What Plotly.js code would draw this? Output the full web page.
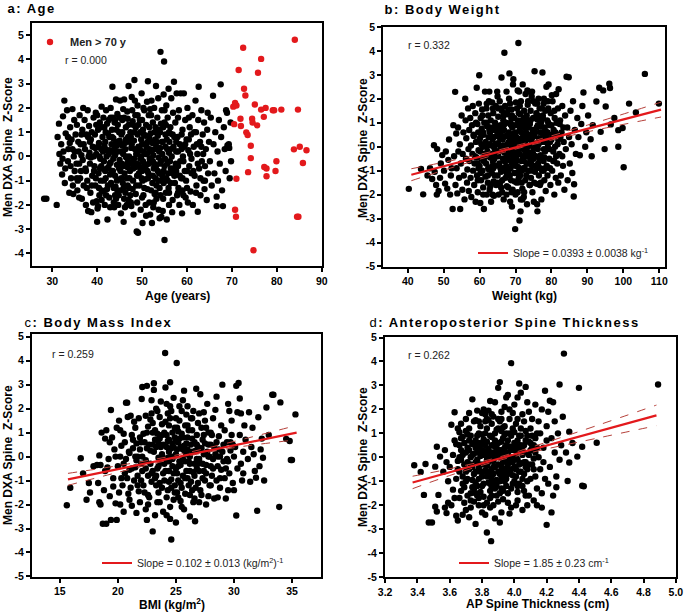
<!DOCTYPE html>
<html><head><meta charset="utf-8">
<script src="https://cdn.plot.ly/plotly-3.0.1.min.js"></script>
<style>html,body{margin:0;padding:0;background:#fff;} #chart{width:685px;height:613px;}</style>
</head><body><div id="chart"></div>
<script>
// ---------- DATA ----------
const ageBlack = [[28.2,-1.75],[28.7,-1.75],[31.0,-2.0],[31.2,0.8],[31.5,1.35],[31.6,0.1],[31.8,-0.3],[32.0,0.5],[32.2,-0.75],[32.4,1.65],[32.7,2.3],[32.5,0.2],[32.9,-0.5],[32.3,-0.1],[33.0,0.95],[32.8,-1.1],
[33.3,1.9],[33.6,0.3],[33.8,-1.5],[34.0,1.2],[34.1,-0.4],[34.3,0.7],[34.5,1.95],[34.6,-1.2],[34.8,0.0],[34.2,-0.9],[33.5,-0.2],[34.9,1.5],[35.0,-0.6],[33.9,0.55],[34.7,-1.55],
[35.2,0.9],[35.4,-0.3],[35.5,1.3],[35.7,-1.0],[35.9,0.2],[36.0,-1.7],[36.1,1.7],[36.3,0.5],[36.4,-0.6],[36.6,-1.75],[36.7,1.1],[36.8,-0.15],[36.9,2.0],[35.6,-1.4],[36.2,-0.9],[35.8,0.6],[36.5,0.05],[37.0,-1.2],
[37.2,1.5],[37.3,0.3],[37.4,-0.5],[37.5,-2.0],[37.6,0.9],[37.8,-1.0],[37.9,1.9],[38.0,-2.25],[38.1,0.0],[38.2,1.25],[38.4,-0.3],[38.5,-1.5],[38.6,0.7],[38.7,-2.3],[38.8,1.0],[38.9,-0.8],[39.0,0.4],[37.7,-1.3],[38.3,0.15],[39.1,-1.9],[39.2,1.6],[38.6,-0.05],
[39.4,-0.4],[39.5,0.9],[39.6,-1.2],[39.7,1.8],[39.8,0.1],[40.0,-2.7],[40.1,-2.15],[40.2,1.1],[40.3,-0.7],[40.4,0.55],[40.5,-1.6],[40.6,1.4],[40.7,-0.1],[40.8,-1.0],[40.9,0.3],[41.0,2.05],[41.1,-0.5],[39.9,-1.85],[40.4,-1.3],[41.2,0.8],[39.6,0.35],[41.3,-1.45],[40.2,-2.05],[41.4,1.6],
[41.5,-0.2],[41.6,1.2],[41.7,-2.0],[41.8,0.6],[41.9,-0.9],[42.0,1.9],[42.1,0.0],[42.2,-1.35],[42.3,-2.6],[42.4,0.95],[42.5,-0.45],[42.6,1.5],[42.7,-1.7],[42.8,0.25],[42.9,-0.75],[43.0,2.0],[43.1,-1.1],[43.2,0.5],[41.8,-0.6],[42.2,1.35],[42.6,0.1],[43.0,-0.25],[43.3,1.1],[42.0,-1.6],[42.9,-2.1],[41.6,0.45],
[43.4,2.87],[43.5,-0.6],[43.6,0.75],[43.7,-1.9],[43.8,-2.1],[43.9,1.4],[44.0,0.05],[44.1,-1.25],[44.2,2.35],[44.3,0.45],[44.4,-0.35],[44.5,1.75],[44.6,-0.95],[44.7,0.2],[44.8,-1.6],[44.9,1.0],[45.0,-0.15],[45.1,2.3],[43.6,-0.1],[44.0,-0.8],[44.3,1.1],[44.7,-2.0],[45.0,0.65],[43.9,0.35],[44.5,-1.4],[44.9,-0.5],[43.5,1.6],[44.2,-1.75],
[45.3,-2.35],[45.4,0.9],[45.5,-0.3],[45.6,1.5],[45.7,-1.1],[45.8,0.1],[45.9,-2.7],[46.0,2.35],[46.1,-0.7],[46.2,0.55],[46.3,-1.5],[46.4,1.2],[46.5,-0.05],[46.6,-2.0],[46.7,1.85],[46.8,-0.45],[46.9,0.8],[47.0,2.9],[47.1,-1.3],[45.4,-0.9],[45.8,1.95],[46.0,-1.75],[46.3,0.3],[46.6,-0.9],[46.9,-0.2],[47.0,1.3],[45.6,0.45],[46.2,-2.1],[46.8,1.55],[47.1,0.0],
[47.3,-0.6],[47.4,1.0],[47.5,-1.9],[47.6,0.35],[47.7,2.45],[47.8,-0.25],[47.9,1.45],[48.0,-1.0],[48.1,-2.4],[48.2,0.65],[48.3,3.15],[48.4,-0.45],[48.5,1.7],[48.6,-1.55],[48.7,0.1],[48.8,-3.1],[48.9,-0.8],[49.0,2.1],[49.1,-3.15],[49.2,0.4],[47.5,0.8],[47.9,-1.35],[48.2,-0.1],[48.6,1.2],[48.9,-1.9],[49.2,-0.35],[47.6,-2.05],[48.4,2.3],[49.0,0.9],[47.8,1.9],
[49.4,-1.2],[49.5,1.5],[49.6,-0.1],[49.7,-2.2],[49.8,0.7],[49.9,2.6],[50.0,-0.6],[50.1,-2.75],[50.2,1.1],[50.3,-1.6],[50.4,0.2],[50.5,1.9],[50.6,-0.95],[50.7,0.5],[50.8,-2.0],[50.9,1.3],[51.0,-0.35],[51.1,2.25],[51.2,-1.35],[51.3,3.1],[49.5,0.3],[49.9,-0.9],[50.2,-0.2],[50.5,-1.3],[50.8,0.85],[51.1,0.1],[49.6,1.0],[50.3,2.0],[50.9,-2.45],[51.2,0.6],
[51.4,-0.7],[51.5,1.7],[51.6,-1.9],[51.7,0.3],[51.8,-2.4],[51.9,0.95],[52.0,-0.15],[52.1,2.3],[52.2,-2.75],[52.3,-1.1],[52.4,1.4],[52.5,0.05],[52.6,-0.5],[52.7,2.0],[52.8,-1.55],[52.9,0.7],[53.0,-0.9],[53.1,2.9],[53.2,0.4],[51.6,0.8],[52.0,-1.4],[52.3,0.55],[52.7,-0.3],[53.0,1.2],[51.8,1.95],[52.5,-2.1],[53.2,-1.75],[51.5,-0.3],
[53.4,1.6],[53.5,-0.6],[53.6,2.4],[53.7,-2.2],[53.8,0.2],[53.9,-1.3],[54.0,1.0],[54.1,4.31],[54.2,-0.2],[54.3,-2.5],[54.4,1.9],[54.5,-0.8],[54.6,0.6],[54.7,-1.75],[54.8,2.55],[54.9,3.91],[55.0,-3.45],[55.0,-0.4],[53.5,0.85],[53.9,-2.55],[54.2,1.35],[54.5,0.1],[54.8,-1.1],[53.7,-0.05],[54.1,-1.6],[54.6,-2.25],[55.0,1.4],[53.6,-1.0],
[55.2,0.9],[55.3,-1.5],[55.4,2.1],[55.5,-2.6],[55.6,0.3],[55.7,1.6],[55.8,-0.7],[55.9,2.79],[56.0,-2.0],[56.1,0.6],[56.2,-0.2],[56.3,1.2],[56.4,-1.1],[56.5,2.4],[56.6,0.0],[56.8,-1.8],[56.9,1.8],[57.0,-0.5],[57.1,3.08],[55.4,-0.9],[55.9,-1.3],[56.2,0.95],[56.7,-2.3],[57.0,0.4],
[57.3,-1.1],[57.4,1.4],[57.6,0.2],[57.7,2.6],[57.8,-1.6],[57.9,0.8],[58.0,-0.4],[58.2,1.9],[58.3,-2.0],[58.4,0.5],[58.6,2.6],[58.7,-0.9],[58.9,-2.35],[59.0,1.1],[59.1,0.0],[59.3,2.6],[57.5,-0.3],[58.1,-1.3],[58.8,0.3],[59.2,-1.6],
[59.5,-0.6],[59.6,1.5],[59.8,-1.0],[59.9,0.7],[60.1,2.0],[60.2,-1.9],[60.3,0.25],[60.5,-0.4],[60.6,1.2],[60.8,-1.45],[60.9,0.9],[61.0,-0.1],[61.2,1.7],[61.3,-2.0],[61.5,0.4],[59.7,-1.7],[60.4,1.6],
[61.7,-0.8],[61.9,2.3],[62.0,1.0],[62.1,-1.2],[62.3,0.1],[62.4,-2.28],[62.5,1.5],[62.6,2.87],[62.7,-0.5],[62.9,0.6],[63.0,-1.6],[63.2,1.9],[63.3,-0.2],
[63.5,0.9],[63.7,-1.0],[63.8,1.4],[64.0,-0.4],[64.2,0.3],[64.4,-1.8],[64.5,1.1],[64.7,-0.7],[64.9,0.6],[63.9,-1.35],[64.6,1.8],
[65.1,-0.2],[65.3,1.6],[65.5,-1.2],[65.8,2.5],[65.9,0.5],[66.1,-0.7],[66.3,1.0],[66.6,-1.66],[66.6,-2.05],[66.8,0.2],[66.9,-1.0],
[67.1,1.5],[67.3,-0.3],[67.5,2.97],[67.6,0.8],[67.8,-1.4],[68.0,-2.05],[68.2,1.2],[68.4,0.3],[68.6,-0.6],[68.9,1.8],[69.0,0.45],[69.3,0.5],[69.5,-0.9],[69.7,1.4],[69.4,0.35],[68.7,1.9],[69.8,-0.2]];
const ageBlackCore = [[38.4,0.6],[39.3,-0.6],[39.8,1.3],[40.5,0.0],[40.9,-0.4],[41.3,0.2],[41.9,1.0],[42.4,-1.2],[42.8,-0.3],[43.3,0.8],[43.7,-1.3],[44.1,0.6],[44.6,1.3],[45.2,-0.6],[45.5,0.2],[45.9,-1.3],[46.4,0.7],[46.7,-0.3],[47.2,-0.9],[47.7,0.5],[48.0,-0.5],[48.3,1.0],[48.7,-1.2],[49.1,0.2],[49.3,-0.7],[49.8,0.0],[50.1,-1.0],[50.4,0.9],[50.7,-0.5],[51.0,0.4],[51.3,-0.9],[51.7,-0.1],[52.1,0.2],[52.4,-0.8],[52.8,1.0],[53.1,-0.4],[53.3,0.6],[53.8,-0.7],[54.0,0.35],[54.3,-1.0],[54.7,1.2],[55.1,-0.1],[55.5,0.7],[55.7,-1.0],[56.0,0.15],[56.4,-0.5],[56.8,0.9],[57.2,-0.8],[57.6,0.6],[58.0,-1.5],[58.5,-0.2],[59.0,-0.9],[59.4,0.4],[60.0,-0.6],[60.7,0.1],[61.4,-0.6],[62.2,0.5],[63.0,-0.9],[63.6,0.1],[45.0,1.6],[50.0,1.5],[55.3,1.3],[47.4,-1.6],[52.6,-1.9],[41.0,-1.8],[37.0,0.5],[36.0,-0.3],[35.0,0.2],
[38.0,0.8],[38.8,-1.2],[39.2,0.0],[39.7,-0.9],[40.2,0.4],[40.6,-0.5],[41.0,1.2],[41.5,-1.0],[41.9,0.3],[42.3,-0.5],[42.7,0.8],[43.2,-0.6],[43.6,0.2],[44.0,1.5],[44.4,-1.0],[44.8,0.5],[45.2,-1.4],[45.6,1.0],[46.0,-0.4],[46.4,0.0],[46.8,-1.2],[47.2,0.6],[47.6,-0.3],[48.0,1.3],[48.4,0.3],[48.8,-0.3],[49.2,1.3],[49.6,-0.5],[50.0,0.5],[50.4,-0.4],[50.8,0.1],[51.2,-0.6],[51.6,1.2],[52.0,0.6],[52.4,-0.2],[52.8,0.3],[53.2,-1.2],[53.6,1.1],[54.0,-0.3],[54.4,0.6],[54.8,-0.6],[55.2,0.4],[55.6,-0.3],[56.0,1.0],[56.4,0.3],[56.8,-0.7],[57.2,0.8],[57.6,-0.6],[58.0,0.2],[58.4,-0.8],[58.8,0.9],[59.2,-0.2],[59.6,0.5],[60.0,-1.3],[60.4,0.7],[61.0,-0.7],[61.6,1.0],[62.4,-0.3],[63.2,0.4],[64.0,-1.0],[40.0,1.7],[43.0,1.6],[46.0,1.6],[49.0,1.7],[52.0,1.7],[55.0,1.9],[58.0,1.6],[41.0,-1.4],[44.0,-1.6],[47.0,-1.8],[50.0,-1.7],[53.0,-1.5],[56.0,-1.5],[59.0,-1.4],[62.0,-1.5],[37.5,-0.6],[36.5,0.9],[35.5,-0.9],[34.5,0.3],[33.5,0.8]];

const ageRed = [[70.3,2.05],[70.7,2.2],[71.0,2.1],[72.5,4.48],[84.0,4.81],[76.5,4.02],[71.5,3.56],[75.8,3.45],[72.7,2.79],[73.0,2.51],[75.1,2.14],[76.5,1.93],[77.5,2.0],[79.1,1.9],[79.4,1.9],[81.0,1.93],[84.7,1.93],
[70.5,1.33],[71.9,1.55],[72.0,1.25],[74.5,1.55],[74.6,1.4],[75.6,1.28],[77.1,1.63],[73.2,0.99],[73.5,0.88],[74.2,0.44],[74.2,-0.07],[83.8,0.29],[85.1,0.4],[86.6,0.25],[85.8,-0.27],[79.9,-0.2],
[77.2,-0.44],[77.7,-0.5],[73.6,-0.65],[79.7,-0.6],[77.7,-0.82],[71.0,-0.92],[70.7,-2.2],[70.9,-2.49],[84.5,-2.49],[84.8,-2.49],[74.8,-3.87]];

const weightPts = [[40.3,-1.76],[43.7,-0.93],[44.3,-1.99],[45.5,-1.2],[46.2,-0.9],[46.8,-1.35],[47.3,0.06],[47.5,-1.05],[47.9,-1.6],[48.2,-0.1],[48.1,-2.0],
[48.6,-1.85],[49.0,-1.3],[49.2,-0.7],[49.6,-0.35],[50.1,-1.0],[50.4,-1.54],[50.6,-0.2],[51.0,-1.75],[51.3,-0.55],[51.5,0.3],[51.8,-2.0],[52.0,-1.2],[52.2,-0.9],[52.5,-2.6],
[52.7,0.9],[52.9,-0.4],[53.2,2.29],[53.3,-1.6],[53.5,0.55],[53.6,-0.9],[53.8,-1.95],[54.0,0.8],[54.1,-0.2],[54.3,-1.3],[54.6,-2.6],[54.5,0.1],[54.8,-0.7],[55.0,1.3],[55.2,-1.8],[55.3,-0.3],[55.5,0.6],[55.6,-1.2],
[55.8,-2.2],[56.0,2.0],[56.1,1.1],[56.2,-0.5],[56.3,0.35],[56.5,-1.5],[56.6,-0.95],[56.8,1.6],[56.9,-0.1],[57.0,-1.85],[57.1,0.7],[57.2,-0.6],[57.4,1.2],[57.5,-1.3],[57.6,0.05],[57.7,-2.1],[57.9,0.9],[58.0,-0.3],[58.1,1.7],[58.2,-1.0],[58.4,0.45],[58.5,-1.6],[58.6,-0.7],[58.9,-2.3],
[58.8,1.4],[59.0,0.2],[59.1,-0.45],[59.2,2.46],[59.3,-1.2],[59.4,0.95],[59.5,-1.9],[59.6,0.6],[59.7,-0.15],[59.8,1.8],[59.9,2.98],[60.0,-0.8],[60.1,0.35],[60.2,-2.35],[60.3,1.2],[60.4,-1.4],[60.5,-0.5],[60.6,0.75],[60.7,1.55],[60.8,-1.0],[60.9,0.0],[61.0,-1.7],[61.1,0.5],[61.2,-2.6],[61.3,1.0],[61.4,-0.3],[61.5,2.3],[61.6,-1.25],[60.5,0.1],[59.7,-0.9],
[61.7,0.2],[61.8,-0.7],[61.9,1.6],[62.0,-2.0],[62.1,0.85],[62.2,-0.2],[62.3,-1.5],[62.4,1.3],[62.5,0.4],[62.6,-0.95],[62.7,2.3],[62.8,-1.8],[62.9,0.6],[63.0,-0.45],[63.1,1.1],[63.2,-2.3],[63.3,0.05],[63.4,-1.1],[63.5,1.85],[63.6,0.3],[63.7,-0.6],[63.8,1.4],[63.9,-1.45],[64.0,-2.05],[64.1,0.7],[64.2,-0.1],[64.3,1.0],[64.4,-0.8],[64.5,1.7],[64.6,-1.6],[64.7,0.45],[62.0,0.0],[62.6,1.9],[63.2,-0.3],[63.8,-0.9],[64.4,0.9],
[64.8,-0.35],[64.9,2.3],[65.0,-1.2],[65.1,0.15],[65.2,1.25],[65.3,-2.0],[65.4,0.55],[65.5,-0.7],[65.6,1.9],[65.7,-1.5],[65.8,0.9],[65.9,-0.05],[66.0,-1.05],[66.1,2.89],[66.2,1.5],[66.3,-1.9],[66.4,0.3],[66.5,-0.5],[66.6,1.1],[66.7,-2.2],[66.8,0.7],[66.9,3.92],[67.0,-0.25],[67.1,1.7],[67.2,-1.3],[67.3,0.45],[67.4,-0.8],[67.5,2.3],[67.6,-1.65],[67.7,0.1],[67.8,1.35],[67.9,-0.55],[65.2,-0.4],[65.7,0.35],[66.2,-0.9],[66.6,0.05],[67.0,0.95],[67.5,-2.0],[65.0,0.8],[66.0,1.6],
[68.0,-1.0],[68.1,0.6],[68.2,2.0],[68.3,3.06],[68.4,-0.3],[68.5,-2.3],[68.6,1.0],[68.7,-1.4],[68.8,0.25],[68.9,1.55],[69.0,-0.7],[69.1,0.8],[69.2,-1.8],[69.3,2.6],[69.4,2.82],[69.5,-0.1],[69.6,1.2],[69.7,-1.1],[69.8,0.45],[69.9,-3.44],[70.0,-2.0],[70.1,1.85],[70.2,-0.45],[70.3,0.9],[70.4,-1.5],[70.5,0.1],[70.6,2.35],[70.7,-0.85],[70.8,4.33],[70.9,1.4],[68.2,-0.55],[68.7,0.9],[69.1,-0.35],[69.5,0.55],[70.0,0.3],[70.4,1.6],[68.5,1.8],[69.0,-2.5],[69.8,-1.45],[70.6,-1.9],[68.9,0.05],[70.2,-0.2],
[71.0,-0.3],[71.1,-3.08],[71.2,0.7],[71.3,-1.2],[71.4,-2.7],[71.5,1.9],[71.6,-0.6],[71.7,0.35],[71.8,1.1],[71.9,-1.75],[72.0,2.6],[72.1,-0.1],[72.2,0.9],[72.3,-2.1],[72.4,1.5],[72.5,-0.9],[72.6,0.2],[72.7,-1.4],[72.8,2.2],[72.9,0.6],[73.0,-0.4],[73.1,1.3],[73.2,-2.4],[73.3,0.0],[73.4,1.75],[73.5,-1.0],[73.6,0.8],[73.7,2.3],[73.8,-0.25],[73.9,-1.6],[71.3,1.35],[71.8,-1.0],[72.2,0.45],[72.7,1.0],[73.1,-0.7],[73.6,0.35],[71.0,0.3],[72.4,-1.9],[73.3,2.35],[71.5,-2.2],
[74.0,0.95],[74.1,-0.5],[74.2,1.5],[74.3,-1.3],[74.4,0.3],[74.5,2.1],[74.6,-0.8],[74.7,-1.9],[74.8,0.7],[74.9,1.2],[75.0,-0.1],[75.1,-2.3],[75.3,3.15],[75.2,0.45],[75.4,-1.05],[75.5,1.8],[75.6,-0.4],[75.7,0.15],[75.8,1.4],[75.9,-1.55],[76.0,-2.4],[76.1,-2.7],[76.2,0.9],[76.3,-0.7],[76.4,2.0],[76.5,0.35],[74.3,0.05],[74.9,-0.3],[75.5,0.6],[76.0,1.15],[74.6,2.3],[75.8,-0.9],[76.5,-1.2],[74.2,-1.0],[75.0,1.9],[76.2,-0.1],
[76.7,1.6],[76.8,-1.6],[76.9,0.6],[77.0,-0.35],[77.1,1.0],[77.2,-2.2],[77.3,0.2],[77.5,3.1],[77.4,-1.0],[77.6,1.3],[77.7,0.5],[77.8,-0.6],[77.9,2.0],[78.0,-1.4],[78.1,0.8],[78.2,-0.2],[78.3,1.5],[78.4,-1.85],[78.5,0.35],[78.6,2.5],[78.7,-0.8],[78.8,1.1],[78.9,-1.2],[79.0,0.0],[77.0,0.85],[77.8,1.8],[78.4,0.65],[79.1,1.6],[76.9,-0.9],[78.0,-0.45],
[79.2,2.6],[79.4,-0.5],[79.5,0.9],[79.7,-1.6],[79.8,1.4],[80.0,0.3],[80.2,-1.0],[80.3,1.9],[80.5,-0.2],[80.6,0.7],[80.8,-2.0],[80.9,1.2],[81.0,0.0],[81.2,-1.3],[81.3,2.2],[81.5,0.5],[81.6,-0.7],[81.8,1.6],[81.9,-1.5],[80.1,2.15],[80.7,-0.6],[81.4,1.0],[79.6,0.2],[81.9,0.3],
[82.0,2.4],[82.2,-0.3],[82.4,1.1],[82.6,-1.2],[82.8,0.6],[83.0,1.7],[83.2,-0.8],[83.4,0.2],[83.6,-1.8],[83.8,1.3],[84.0,-0.1],[84.2,2.92],[84.4,0.8],[84.5,-1.4],[84.8,2.9],[84.9,0.4],[83.0,-0.4],[82.3,0.95],
[85.1,-0.7],[85.3,1.5],[85.6,0.1],[85.8,-1.1],[86.0,1.9],[86.2,-2.08],[86.3,-1.57],[86.5,0.7],[86.8,-0.3],[87.2,1.2],[87.5,0.4],[87.9,-0.36],[88.3,0.95],[88.6,1.7],[88.9,2.26],[89.4,0.0],
[90.2,1.3],[90.9,0.31],[91.5,0.9],[92.5,1.89],[93.3,2.46],[93.7,0.62],[94.4,2.35],[94.8,-0.1],[95.1,1.68],[96.1,2.63],[96.3,2.45],[96.5,0.93],[97.5,1.2],[98.6,0.69],[98.6,0.0],[99.8,0.78],[100.1,-0.86],[101.6,1.8],[103.5,1.43],[106.0,3.04],[109.9,1.8],[91.2,-0.4],[89.7,0.6]];
const weightCore = [[60.2,-0.2],[61.0,0.6],[61.9,-0.4],[62.8,0.1],[63.5,-0.8],[64.0,0.4],[64.6,-0.2],[65.3,0.75],[65.8,-0.9],[66.3,0.0],[66.9,-0.6],[67.3,1.0],[67.8,-0.2],[68.3,0.4],[68.6,-0.9],[69.2,0.2],[69.6,-0.5],[70.1,0.6],[70.5,-1.1],[70.9,-0.1],[71.4,0.9],[71.9,0.1],[72.3,-0.6],[72.8,0.4],[73.2,-0.2],[73.8,1.1],[74.4,-0.6],[74.8,0.2],[75.3,-0.4],[75.9,0.8],[76.4,0.1],[76.8,-0.4],[77.3,0.6],[77.8,-1.0],[78.3,0.2],[78.9,0.6],[79.4,-0.1],[80.0,0.9],[80.5,-0.6],[81.1,0.6],[81.7,0.1],[82.5,0.4],[83.3,0.8],[69.0,1.3],[71.2,1.7],[66.7,1.3],[73.0,-1.2],[67.6,-1.1],[64.2,-1.2],[62.4,-0.9],[75.2,-1.5],[77.6,1.2],[68.0,-1.7],[71.7,-1.5],[70.3,-0.6],[66.0,0.45],
[58.3,0.5],[58.7,-0.4],[59.0,1.0],[59.5,-1.4],[59.9,0.25],[60.3,-1.1],[60.8,1.3],[61.2,-0.6],[61.6,0.1],[62.0,1.0],[62.3,-1.2],[62.7,0.7],[63.0,-1.65],[63.4,0.4],[63.7,1.6],[64.1,-0.5],[64.5,0.1],[64.9,-1.5],[65.2,1.6],[65.6,-0.2],[65.9,0.6],[66.3,-1.4],[66.7,0.4],[67.0,-0.9],[67.4,1.4],[67.7,-0.4],[68.1,0.2],[68.4,-1.2],[68.8,1.2],[69.2,-0.2],[69.5,0.9],[69.9,-0.8],[70.2,0.4],[70.6,1.1],[70.9,-1.3],[71.3,0.0],[71.6,0.6],[72.0,-0.4],[72.4,1.2],[72.7,-0.2],[73.1,0.5],[73.5,-0.7],[73.9,0.3],[74.2,1.1],[74.6,-0.3],[75.0,0.6],[75.4,-0.8],[75.8,0.0],[76.2,1.3],[76.6,-0.5],[77.0,0.3],[77.4,1.6],[77.9,-0.1],[78.3,-0.9],[78.7,0.4],[79.1,1.0],[79.6,-0.9],[80.2,0.5],[80.8,1.5],[81.3,-0.4],[61.0,-2.0],[63.6,-2.0],[66.0,-1.7],[68.9,-1.9],[71.9,-2.2],[74.0,-1.6],[77.0,-1.5],[62.0,1.8],[65.0,2.1],[68.0,1.55],[71.0,2.3],[73.5,1.9],[76.0,1.8],[79.0,1.9],[59.5,-0.7],[60.5,0.5],[64.0,0.0],[66.5,0.85],[69.0,0.0],[72.2,-0.9],[75.0,-0.5],[78.0,0.5],[70.0,-0.4],[67.2,-0.1],[63.0,0.8],[74.0,0.5],[70.6,0.0],[72.6,0.8]];

const bmiPts = [[15.6,-2.03],[15.9,-1.3],[16.8,-0.07],[17.3,-1.8],[17.6,-1.5],[17.0,-0.7],[17.5,-1.1],[17.9,-0.4],[18.2,-0.35],[18.5,-0.35],
[18.3,-1.1],[18.4,-1.9],[18.6,1.0],[18.7,-2.8],[18.8,-1.4],[18.9,0.75],[19.0,1.1],[19.0,-2.8],[18.5,-2.0],[18.9,-0.6],[18.4,0.05],
[19.2,-0.1],[19.3,-1.65],[19.4,1.94],[19.4,-2.64],[19.5,0.8],[19.6,-0.9],[19.7,0.3],[19.8,-1.95],[19.9,-2.64],[19.9,1.2],[19.3,0.6],[19.6,-1.25],[19.8,0.0],[19.1,-0.45],
[20.0,-0.4],[20.1,1.5],[20.2,-2.0],[20.3,0.45],[20.4,-1.2],[20.5,0.95],[20.6,-0.7],[20.7,2.25],[20.8,2.25],[20.9,-1.55],[20.95,0.2],[20.2,1.1],[20.5,-2.3],[20.7,-0.1],[20.3,-0.9],[20.85,1.65],[20.1,-1.5],[20.6,0.6],
[21.0,-0.55],[21.1,1.7],[21.2,-2.05],[21.3,0.35],[21.4,-1.0],[21.5,1.2],[21.6,-2.35],[21.7,0.0],[21.8,-1.45],[21.9,0.8],[22.0,-0.3],[22.05,2.4],[21.2,0.9],[21.5,-0.45],[21.8,1.6],[21.1,-1.3],[21.9,-1.9],[21.6,0.55],[21.4,1.45],[21.0,0.15],[21.7,-0.8],
[22.1,2.9],[22.2,-1.2],[22.3,0.6],[22.4,-0.15],[22.5,2.95],[22.5,-2.64],[22.6,1.25],[22.7,-1.7],[22.8,0.25],[22.9,1.8],[23.0,-0.6],[22.2,0.95],[22.4,-2.2],[22.6,-0.8],[22.8,1.55],[22.3,-1.5],[22.7,0.5],[22.9,-1.05],[22.1,0.0],[22.5,0.35],[23.0,1.0],[22.6,-2.0],[22.9,2.35],
[23.0,-3.12],[23.1,3.06],[23.1,2.78],[23.2,-0.9],[23.3,0.4],[23.4,1.9],[23.5,-1.5],[23.6,0.75],[23.7,-0.25],[23.8,1.35],[23.9,-2.3],[23.2,1.1],[23.4,-0.5],[23.6,-1.9],[23.8,0.1],[23.3,-1.2],[23.5,0.55],[23.7,2.3],[23.9,-0.7],[23.4,0.95],[23.6,1.65],[23.8,-1.3],[23.2,-2.45],[23.9,0.5],[23.5,-0.05],
[24.07,4.32],[24.1,2.88],[24.2,-2.45],[24.5,3.1],[24.6,-3.46],[24.1,-0.6],[24.2,0.9],[24.3,-1.4],[24.4,0.2],[24.5,1.6],[24.6,-0.95],[24.7,0.55],[24.8,-1.8],[24.9,1.2],[24.2,2.2],[24.4,-0.2],[24.6,1.9],[24.8,0.0],[24.3,0.65],[24.5,-2.1],[24.7,-0.4],[24.9,-1.2],[24.1,1.45],[24.4,-1.05],[24.8,2.45],[24.6,0.35],[24.3,-0.05],[24.9,0.8],[24.5,-2.6],[24.7,1.0],
[25.0,-2.75],[25.07,3.9],[25.1,0.3],[25.2,-1.0],[25.3,1.5],[25.4,-0.35],[25.5,-2.1],[25.6,0.8],[25.7,2.75],[25.8,-1.55],[25.9,0.1],[25.1,-0.7],[25.3,2.1],[25.5,-1.3],[25.7,0.45],[25.9,-0.6],[25.2,1.05],[25.4,-1.85],[25.6,-0.1],[25.8,1.3],[25.0,0.65],[25.3,-0.2],[25.7,-2.2],[25.9,1.75],[25.5,0.95],[25.1,-1.5],[25.6,2.35],[25.8,0.2],
[26.0,-0.9],[26.1,1.1],[26.2,-2.5],[26.3,0.5],[26.4,-1.4],[26.5,1.9],[26.6,-0.3],[26.65,-2.7],[26.75,2.83],[26.8,0.9],[26.9,-1.1],[26.1,-0.2],[26.3,1.6],[26.5,-0.65],[26.7,0.25],[26.9,1.4],[26.2,0.0],[26.4,0.75],[26.6,-1.75],[26.8,-0.5],[26.0,2.1],[26.7,-1.3],[26.3,-1.05],[26.9,0.4],
[27.0,-0.1],[27.1,2.6],[27.2,-1.6],[27.3,0.7],[27.4,-0.6],[27.5,1.5],[27.6,-2.0],[27.7,0.2],[27.8,1.0],[27.9,-1.2],[27.2,0.35],[27.4,1.85],[27.6,-0.35],[27.8,-1.65],[27.3,-0.9],[27.5,0.55],[27.7,2.2],[27.9,0.0],[27.1,-1.4],[27.6,1.2],
[28.0,0.5],[28.1,-0.8],[28.2,1.6],[28.3,-1.75],[28.4,0.1],[28.5,2.5],[28.6,-0.4],[28.7,0.85],[28.8,-1.3],[28.9,1.3],[28.2,-0.1],[28.5,-1.0],[28.7,0.3],[28.9,-0.55],[28.4,1.95],[28.6,-1.7],[28.1,0.9],[28.8,0.0],
[29.0,3.0],[29.1,-0.2],[29.2,1.1],[29.3,-1.75],[29.4,0.6],[29.5,2.2],[29.6,-0.7],[29.7,0.25],[29.8,1.5],[29.9,-1.1],[29.2,-0.9],[29.6,1.9],[29.4,-0.1],[29.8,0.9],[29.5,-1.4],
[30.2,2.95],[30.4,3.07],[30.5,2.42],[30.3,1.85],[30.6,1.8],[30.2,-2.46],[30.1,0.4],[30.3,-0.5],[30.5,0.9],[30.7,-1.0],[30.8,0.2],[30.9,1.3],[30.6,-0.3],[30.0,-1.4],[30.8,-0.7],
[31.0,0.7],[31.2,-0.1],[31.3,1.85],[31.4,-1.05],[31.5,0.4],[31.6,1.2],[31.8,-0.6],[31.9,-0.88],[31.7,0.1],
[32.0,-2.26],[32.1,1.64],[32.2,-0.4],[32.3,0.3],[32.5,-0.05],[32.4,0.75],[32.8,2.05],[33.3,2.58],[33.4,2.58],[33.9,-2.1],[34.0,2.26],[34.5,0.74],[34.8,0.65],[34.9,-0.14],[35.0,-0.14],[35.3,1.76],[32.6,-1.0],[33.0,0.9]];
const bmiCore = [[20.5,-0.3],[21.2,-0.5],[21.6,-0.15],[22.0,0.6],[22.4,-0.5],[22.8,-0.3],[23.1,0.2],[23.3,-0.8],[23.7,0.4],[24.0,-0.3],[24.2,0.4],[24.4,-0.6],[24.6,0.0],[24.8,-0.7],[25.0,0.1],[25.2,-0.4],[25.4,0.4],[25.6,-0.8],[25.8,-0.2],[26.0,0.3],[26.2,-0.6],[26.4,0.2],[26.6,0.6],[26.8,-0.1],[27.0,0.3],[27.3,-0.3],[27.5,-1.0],[27.8,0.5],[28.0,-0.4],[28.3,0.4],[28.6,0.0],[29.0,0.2],[29.3,-0.5],[29.7,0.6],[30.0,0.0],[23.0,1.4],[24.0,1.0],[25.0,1.6],[26.0,1.3],[22.0,-1.0],[24.9,-1.5],[23.6,-1.1],[26.5,-1.9],[27.4,0.9],[21.9,0.3],[25.3,0.75],[24.3,1.8],
[20.2,0.0],[20.8,-0.9],[21.3,0.7],[21.7,-1.2],[22.1,-0.6],[22.5,1.0],[22.9,-0.7],[23.2,0.7],[23.5,-0.4],[23.8,0.9],[24.0,-1.0],[24.2,-0.2],[24.4,0.7],[24.6,-1.3],[24.8,0.4],[25.0,-0.5],[25.2,0.6],[25.4,-1.1],[25.6,0.3],[25.8,-0.9],[26.0,0.8],[26.2,-0.3],[26.4,1.1],[26.6,-0.8],[26.8,0.5],[27.0,-0.6],[27.2,1.2],[27.4,0.1],[27.6,-0.7],[27.8,0.0],[28.0,1.0],[28.2,-0.5],[28.5,0.6],[28.8,-0.9],[29.1,0.5],[29.5,-0.2],[29.9,0.5],[22.4,1.7],[23.3,2.0],[24.5,2.1],[25.5,1.9],[26.4,1.6],[27.0,1.8],[22.6,-1.6],[23.4,-1.9],[24.2,-1.7],[25.2,-1.7],[26.2,-1.6],[27.0,-1.9],[28.0,-1.2],[21.0,-1.8],[21.5,0.0],[23.9,-0.1],[24.7,-0.1],[25.9,0.55],[26.9,-0.3],[24.4,1.3],[25.1,1.2],[23.0,0.5],[26.1,-1.2]];

const apPts = [[3.38,-0.33],[3.42,-0.61],[3.45,-0.28],[3.44,-1.57],[3.47,-2.72],[3.49,-2.72],[3.51,-2.06],[3.52,-2.26],[3.51,-0.39],[3.53,-1.57],[3.52,0.44],[3.54,0.03],[3.58,-2.33],
[3.56,-0.6],[3.57,-2.1],[3.58,-0.2],[3.59,-1.0],[3.57,0.3],[3.59,-1.9],
[3.60,-0.4],[3.61,1.36],[3.62,-1.35],[3.63,1.88],[3.63,0.7],[3.64,-0.9],[3.64,-2.44],[3.65,-2.64],[3.62,0.1],[3.65,-0.15],[3.61,-2.0],[3.64,0.55],[3.65,1.2],[3.63,-1.7],
[3.66,-0.6],[3.66,1.05],[3.67,-1.4],[3.67,0.3],[3.68,-2.4],[3.68,0.85],[3.69,-0.3],[3.69,-1.9],[3.70,1.6],[3.70,-1.0],[3.66,0.0],[3.68,-0.8],[3.69,0.6],[3.67,1.4],[3.70,-2.2],[3.66,-1.7],[3.69,-1.25],[3.67,-0.1],
[3.71,0.4],[3.71,-1.6],[3.72,1.2],[3.72,-0.5],[3.73,-2.1],[3.73,0.9],[3.74,2.42],[3.74,-0.95],[3.75,0.15],[3.75,-1.3],[3.71,-0.2],[3.72,1.85],[3.73,-1.8],[3.74,0.55],[3.75,1.5],[3.72,-2.5],[3.71,0.95],[3.74,-0.4],[3.75,-1.85],[3.73,0.0],
[3.76,-2.78],[3.76,0.7],[3.76,-0.6],[3.77,1.95],[3.77,-1.2],[3.78,0.2],[3.78,-1.7],[3.79,1.3],[3.79,-0.3],[3.80,-2.3],[3.80,0.95],[3.76,1.55],[3.77,-0.1],[3.78,-2.0],[3.79,0.5],[3.80,-0.8],[3.77,0.35],[3.78,1.0],[3.79,-1.45],[3.80,1.85],[3.76,-1.05],[3.78,-0.45],
[3.81,0.1],[3.81,-1.1],[3.82,1.5],[3.82,-0.55],[3.83,-3.14],[3.83,0.65],[3.83,-1.9],[3.84,1.95],[3.84,-0.2],[3.85,-1.4],[3.85,0.9],[3.81,2.0],[3.82,-2.4],[3.84,0.35],[3.85,-0.75],[3.81,-1.65],[3.82,0.25],[3.83,1.2],[3.84,-1.05],[3.85,2.35],[3.81,0.75],[3.83,-0.35],[3.85,-2.1],[3.84,1.55],
[3.856,-3.5],[3.86,0.0],[3.86,-1.25],[3.87,1.7],[3.87,-0.7],[3.88,0.45],[3.88,-2.55],[3.89,1.15],[3.89,-1.6],[3.90,2.9],[3.90,-0.3],[3.86,0.85],[3.87,-2.0],[3.88,2.3],[3.89,-0.95],[3.90,0.6],[3.86,1.4],[3.87,0.2],[3.88,-1.3],[3.89,0.0],[3.90,-1.85],[3.86,-0.5],[3.88,1.0],[3.90,1.6],[3.87,-0.15],
[3.91,-2.72],[3.91,3.14],[3.91,0.3],[3.91,-1.0],[3.92,1.9],[3.92,-0.4],[3.93,0.8],[3.93,-1.75],[3.94,1.3],[3.94,-0.1],[3.95,2.5],[3.95,-1.2],[3.92,-2.3],[3.93,0.1],[3.94,-0.7],[3.95,0.5],[3.91,1.5],[3.92,0.65],[3.93,-1.4],[3.94,2.1],[3.95,-0.45],[3.92,-0.9],[3.94,0.95],[3.93,1.25],
[3.96,0.2],[3.96,-1.5],[3.97,1.6],[3.97,-0.6],[3.98,3.93],[3.98,0.9],[3.98,-2.1],[3.99,-0.2],[3.99,1.2],[4.00,2.2],[4.00,-1.0],[3.96,2.6],[3.97,0.45],[3.98,-1.3],[3.99,-0.75],[4.00,0.6],[3.96,-0.3],[3.97,-2.35],[3.99,1.85],[4.00,0.0],[3.98,0.3],
[4.01,1.4],[4.01,-0.5],[4.02,2.5],[4.02,-1.8],[4.03,3.08],[4.03,0.3],[4.03,-1.1],[4.04,0.9],[4.04,-0.25],[4.05,1.8],[4.05,-2.2],[4.01,0.05],[4.02,0.7],[4.03,-0.6],[4.04,2.7],[4.05,0.45],[4.02,-1.45],[4.04,1.2],[4.01,-2.0],[4.05,-0.9],
[4.06,0.2],[4.06,-1.4],[4.07,2.94],[4.07,1.1],[4.08,-0.5],[4.08,-2.0],[4.09,0.65],[4.09,1.9],[4.10,-0.9],[4.10,0.3],[4.06,1.5],[4.07,-0.2],[4.08,2.3],[4.09,-1.6],[4.10,1.2],[4.06,-0.7],[4.08,0.9],
[4.11,-0.3],[4.11,1.6],[4.12,-1.8],[4.12,0.5],[4.13,2.2],[4.13,-0.8],[4.14,1.0],[4.14,-1.3],[4.15,0.0],[4.15,1.5],[4.12,-0.05],[4.13,0.8],[4.14,-2.0],[4.11,0.9],
[4.16,-0.5],[4.16,1.0],[4.17,2.0],[4.17,-1.5],[4.18,0.4],[4.19,2.78],[4.19,-0.9],[4.20,-2.82],[4.20,1.3],[4.18,-0.2],[4.20,0.7],[4.17,-2.1],
[4.21,1.9],[4.22,2.36],[4.22,-0.4],[4.23,0.8],[4.24,2.3],[4.24,-1.6],[4.25,0.2],[4.26,-0.8],[4.26,-1.25],[4.27,1.0],[4.28,3.04],[4.28,-0.1],[4.29,0.5],[4.30,1.69],[4.21,-1.1],[4.25,1.5],[4.23,-2.3],
[4.307,4.33],[4.33,-0.99],[4.34,1.07],[4.34,-0.22],[4.36,0.6],[4.39,0.03],[4.40,2.9],[4.42,0.44],[4.42,-1.19],[4.43,-1.21],[4.51,0.61],[4.89,3.04],[4.32,0.2]];
const apCore = [[3.66,0.5],[3.68,0.1],[3.70,-0.6],[3.72,0.3],[3.73,-0.3],[3.75,0.6],[3.76,-0.2],[3.77,0.9],[3.78,-0.9],[3.79,0.05],[3.80,0.3],[3.81,-0.6],[3.82,0.5],[3.83,-0.1],[3.84,-0.6],[3.85,0.2],[3.86,-0.9],[3.87,0.5],[3.88,-0.4],[3.89,0.4],[3.90,-0.6],[3.91,0.0],[3.92,0.3],[3.93,-0.5],[3.94,0.4],[3.95,-0.9],[3.96,0.7],[3.97,-0.1],[3.98,-0.5],[3.99,0.4],[4.00,-0.4],[4.01,0.5],[4.02,-0.1],[4.03,0.9],[4.04,-0.6],[4.06,0.5],[4.07,-0.4],[4.09,0.1],[4.11,0.4],[4.13,0.2],[3.80,-1.2],[3.85,-1.7],[3.90,1.2],[3.95,1.0],[3.88,-1.05],[3.74,-1.25],[4.0,1.05],[3.83,1.6],[3.92,-1.3],[4.05,-1.2],
[3.65,-0.5],[3.67,0.8],[3.68,-1.1],[3.70,0.2],[3.71,-0.9],[3.72,0.7],[3.73,-1.5],[3.74,0.1],[3.75,-0.7],[3.76,0.4],[3.77,-1.6],[3.78,0.6],[3.79,-0.6],[3.80,0.6],[3.81,-0.3],[3.82,1.0],[3.83,-0.8],[3.84,0.1],[3.85,-1.1],[3.86,0.5],[3.87,-0.4],[3.88,0.7],[3.89,-1.2],[3.90,0.2],[3.91,-0.7],[3.92,1.1],[3.93,-0.2],[3.94,-1.0],[3.95,0.2],[3.96,-0.7],[3.97,1.0],[3.98,0.0],[3.99,-1.1],[4.00,0.3],[4.01,-0.8],[4.02,0.3],[4.03,-0.3],[4.04,0.5],[4.05,0.1],[4.06,-0.2],[4.07,0.7],[4.08,-1.0],[4.09,-0.3],[4.10,0.6],[4.12,-0.5],[4.14,0.4],[3.78,1.5],[3.82,1.8],[3.86,1.8],[3.92,1.6],[3.97,2.0],[4.02,1.6],[3.76,-1.5],[3.81,-2.0],[3.86,-1.6],[3.91,-1.5],[3.96,-1.9],[4.02,-1.2],[4.07,-1.6],[3.70,1.1]];

// regression lines and 95% confidence bands
const weightFitX = [41, 110.5];
const weightFitY = [-1.17, 1.55];
const weightBandX = [41, 55, 72, 90, 110.5];
const weightBandUp = [-0.92, -0.49, 0.12, 0.90, 1.86];
const weightBandLo = [-1.42, -0.75, -0.02, 0.62, 1.24];

const bmiFitX = [15.7, 35.4];
const bmiFitY = [-0.95, 1.0];
const bmiBandX = [15.7, 20, 25, 30, 35.4];
const bmiBandUp = [-0.70, -0.38, 0.06, 0.63, 1.30];
const bmiBandLo = [-1.20, -0.66, -0.08, 0.37, 0.70];

const apFitX = [3.37, 4.88];
const apFitY = [-1.05, 1.75];
const apBandX = [3.37, 3.6, 3.9, 4.2, 4.5, 4.88];
const apBandUp = [-0.79, -0.48, 0.0, 0.63, 1.30, 2.18];
const apBandLo = [-1.31, -0.76, -0.14, 0.35, 0.78, 1.32];

// ticks and labels
const zTickVals = [-5,-4,-3,-2,-1,0,1,2,3,4,5];
const zTickText = ['-5','-4','-3','-2','-1','0','1','2','3','4','5'];
const ageTicks = [30,40,50,60,70,80,90];
const weightTicks = [40,50,60,70,80,90,100,110];
const bmiTicks = [15,20,25,30,35];
const apTicks = [3.2,3.4,3.6,3.8,4.0,4.2,4.4,4.6,4.8,5.0];
const apTickText = ['3.2','3.4','3.6','3.8','4.0','4.2','4.4','4.6','4.8','5.0'];

const panelTitles = ['<b>a: Age</b>', '<b>b: Body Weight</b>', 'c<b>: Body Mass Index</b>', 'd<b>: Anteroposterior Spine Thickness</b>'];
const xTitles = ['Age (years)', 'Weight (kg)', 'BMI (kg/m<sup>2</sup>)', 'AP Spine Thickness (cm)'];
const yTitle = 'Men DXA Spine\u00a0 Z-Score';
const rTexts = ['r = 0.000', 'r = 0.332', 'r = 0.259', 'r = 0.262'];
const redLabel = 'Men > 70 y';
const slopeTexts = ['Slope = 0.0393 \u00b1 0.0038 kg<sup>-1</sup>', 'Slope = 0.102 \u00b1 0.013 (kg/m<sup>2</sup>)<sup>-1</sup>', 'Slope = 1.85 \u00b1 0.23 cm<sup>-1</sup>'];

// ---------- DRAWING ----------
const REG = '"Liberation Sans", Arial, sans-serif';
const W = 685, H = 613;
const px = v => v / W, py = v => 1 - v / H;
const xs = a => a.map(p => p[0]), ys = a => a.map(p => p[1]);

const BLACK = {color:'#000', size:6.4};
const RED = '#e3191c';

function scat(pts, xa, ya, marker, extra) {
  return Object.assign({type:'scatter', mode:'markers', x:xs(pts), y:ys(pts), xaxis:xa, yaxis:ya, marker:marker, showlegend:false, hoverinfo:'skip'}, extra||{});
}
function band(x, y, xa, ya) {
  return {type:'scatter', mode:'lines', x:x, y:y, xaxis:xa, yaxis:ya, line:{color:'#b5403a', width:1, dash:'dash', shape:'spline'}, showlegend:false, hoverinfo:'skip'};
}
function fit(x, y, xa, ya, name, leg) {
  return {type:'scatter', mode:'lines', x:x, y:y, xaxis:xa, yaxis:ya, line:{color:RED, width:2.2}, name:name, legend:leg, showlegend:true, hoverinfo:'skip'};
}

const data = [
  scat(ageBlack.concat(ageBlackCore), 'x', 'y', BLACK),
  scat(ageRed, 'x', 'y', {color:RED, size:6.4}, {name:redLabel, showlegend:true, legend:'legend'}),
  scat(weightPts.concat(weightCore), 'x2', 'y2', BLACK),
  band(weightBandX, weightBandUp, 'x2', 'y2'),
  band(weightBandX, weightBandLo, 'x2', 'y2'),
  fit(weightFitX, weightFitY, 'x2', 'y2', slopeTexts[0], 'legend2'),
  scat(bmiPts.concat(bmiCore), 'x3', 'y3', BLACK),
  band(bmiBandX, bmiBandUp, 'x3', 'y3'),
  band(bmiBandX, bmiBandLo, 'x3', 'y3'),
  fit(bmiFitX, bmiFitY, 'x3', 'y3', slopeTexts[1], 'legend3'),
  scat(apPts.concat(apCore), 'x4', 'y4', BLACK),
  band(apBandX, apBandUp, 'x4', 'y4'),
  band(apBandX, apBandLo, 'x4', 'y4'),
  fit(apFitX, apFitY, 'x4', 'y4', slopeTexts[2], 'legend4')
];

const tickFont = {family:REG, size:10.5, color:'#000', weight:'bold'};
function axis(domain, range, tv, tt, anchor) {
  return {domain:domain, range:range, tickvals:tv, ticktext:tt, anchor:anchor,
    showline:true, mirror:true, linewidth:2, linecolor:'#000',
    ticks:'outside', ticklen:4, tickwidth:2, tickcolor:'#000',
    showgrid:false, zeroline:false, tickfont:tickFont, fixedrange:true};
}

const dom = {
  a:{x:[px(32),px(322)], y:[py(266),py(23)]},
  b:{x:[px(383.3),px(665)], y:[py(266.7),py(26.7)]},
  c:{x:[px(32),px(321)], y:[py(576.7),py(334.3)]},
  d:{x:[px(385),px(676)], y:[py(577.3),py(337.3)]}
};

const ann = [];
const titlePos = [[10,8],[393,10],[36,322],[393,322]];
panelTitles.forEach((t,i) => ann.push({text:t, x:px(titlePos[i][0]), y:py(titlePos[i][1]), xref:'paper', yref:'paper', xanchor:'left', yanchor:'middle', showarrow:false, font:{family:REG, size:13, color:'#000'}}));
const xtPos = [[177,296],[524,296],[172,604],[537,604]];
xTitles.forEach((t,i) => ann.push({text:'<b>'+t+'</b>', x:px(xtPos[i][0]), y:py(xtPos[i][1]), xref:'paper', yref:'paper', xanchor:'center', yanchor:'middle', showarrow:false, font:{family:REG, size:12, color:'#000'}}));
const ytPos = [[8,147],[363,148],[8,455],[363,457]];
ytPos.forEach(p => ann.push({text:'<b>'+yTitle+'</b>', x:px(p[0]), y:py(p[1]), xref:'paper', yref:'paper', xanchor:'center', yanchor:'middle', textangle:-90, showarrow:false, font:{family:REG, size:12, color:'#000'}}));
const rPos = [[63,60],[406,45],[50,354],[406,355]];
rTexts.forEach((t,i) => ann.push({text:t, x:px(rPos[i][0]), y:py(rPos[i][1]), xref:'paper', yref:'paper', xanchor:'left', yanchor:'middle', showarrow:false, font:{family:REG, size:10.5, color:'#222'}}));

function leg(x, y, bold) {
  return {x:px(x), y:py(y), xref:'paper', yref:'paper', xanchor:'left', yanchor:'middle', bgcolor:'rgba(0,0,0,0)', borderwidth:0,
    font:{family:REG, size: bold ? 11 : 10.5, color:'#222', weight: bold ? 'bold' : 'normal'}};
}

const layout = {
  width:W, height:H, margin:{l:0,r:0,t:0,b:0}, paper_bgcolor:'#fff', plot_bgcolor:'#fff',
  font:{family:REG, color:'#000'},
  showlegend:true,
  xaxis: axis(dom.a.x, [25.5, 90.05], ageTicks, null, 'y'),
  yaxis: axis(dom.a.y, [-4.52, 5.5], zTickVals, zTickText, 'x'),
  xaxis2: axis(dom.b.x, [33.2, 111.6], weightTicks, null, 'y2'),
  yaxis2: axis(dom.b.y, [-5.01, 5.01], zTickVals, zTickText, 'x2'),
  xaxis3: axis(dom.c.x, [12.6, 37.5], bmiTicks, null, 'y3'),
  yaxis3: axis(dom.c.y, [-5.01, 5.1], zTickVals, zTickText, 'x3'),
  xaxis4: axis(dom.d.x, [3.199, 5.001], apTicks, apTickText, 'y4'),
  yaxis4: axis(dom.d.y, [-5.01, 5.01], zTickVals, zTickText, 'x4'),
  legend: leg(30, 42, true),
  legend2: leg(473, 253, false),
  legend3: leg(97, 563, false),
  legend4: leg(454, 563, false),
  annotations: ann
};

Plotly.newPlot('chart', data, layout, {staticPlot:true, displayModeBar:false}).then(() => {
  document.querySelectorAll('.annotation').forEach(g => {
    const idx = +g.getAttribute('data-index');
    if (idx < 4) g.querySelectorAll('text').forEach(t => t.style.letterSpacing = '1.5px');
  });
});
</script>
</body></html>
